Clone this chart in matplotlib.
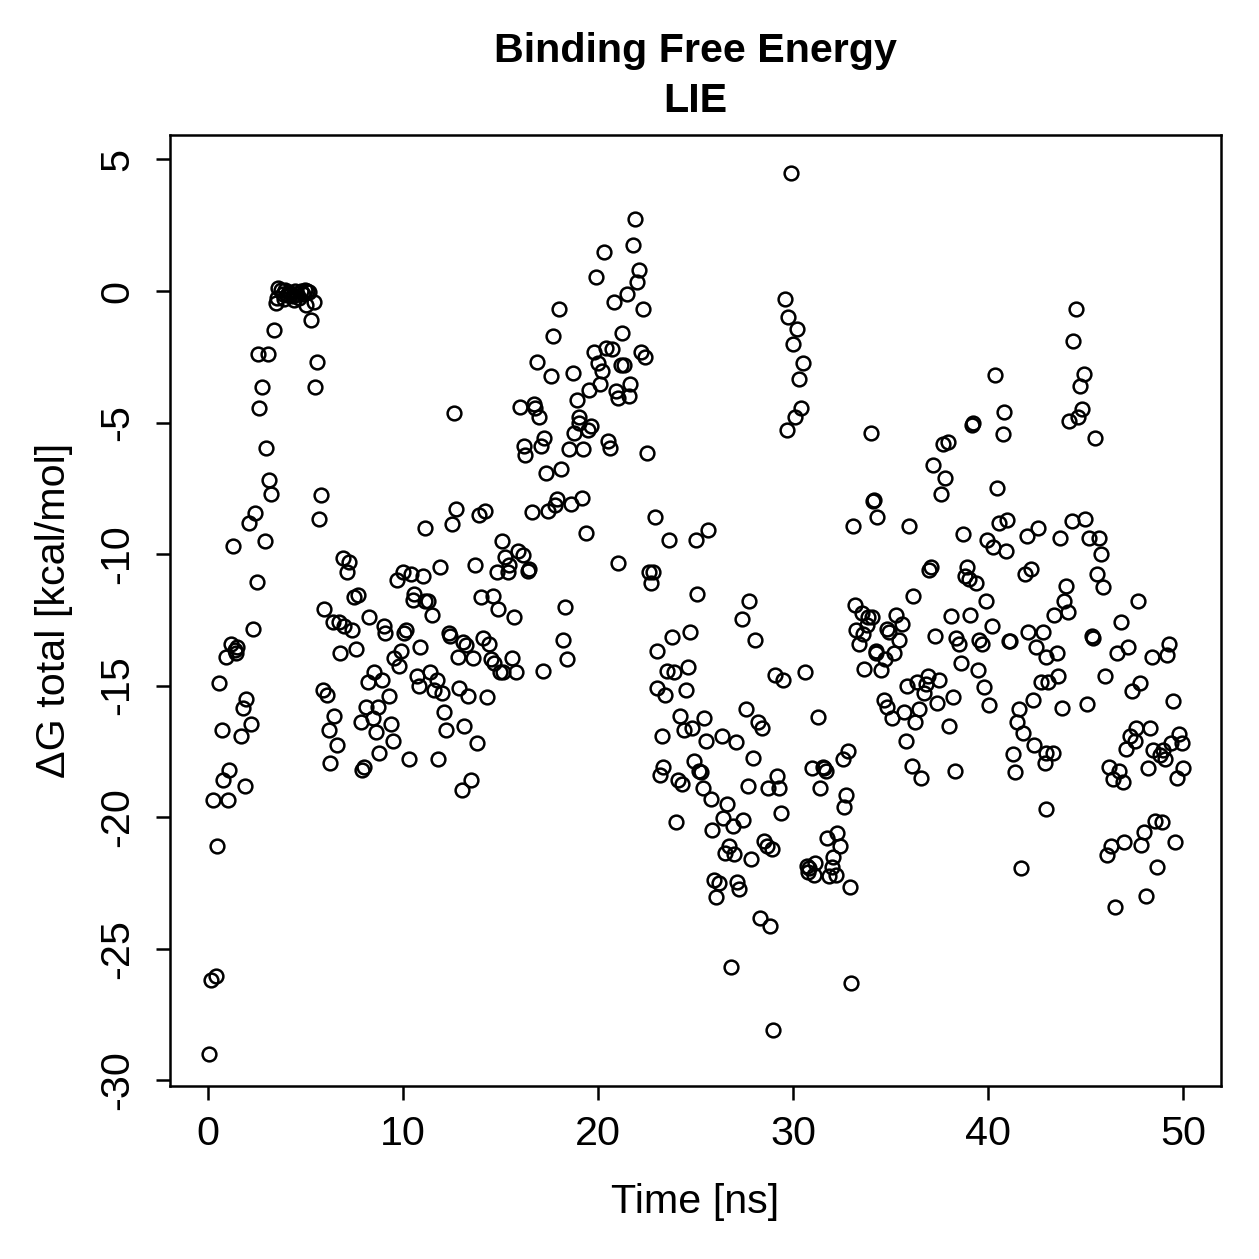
import matplotlib
matplotlib.use("Agg")
import matplotlib.pyplot as plt

plt.rcParams['font.family'] = ['Liberation Sans', 'DejaVu Sans']

# ---- data (time in ns, dG in kcal/mol) ----
time_a = [0.05, 0.15, 0.4, 0.25, 0.45, 0.55, 0.7, 0.75, 0.9, 1.0, 1.1, 1.2, 1.3, 1.4, 1.5, 1.45,
          1.7, 1.8, 1.9, 1.95, 2.1, 2.2, 2.3, 2.4, 2.5, 2.55, 2.6, 2.75, 2.9, 2.95, 3.1, 3.15, 3.25,
          3.4, 3.5, 3.55, 3.6, 3.75, 3.85, 3.95, 4.05, 4.15, 4.25, 4.35, 4.45, 4.55, 4.65, 4.75,
          4.85, 4.95, 5.1, 5.2, 3.9, 4.4, 5.0, 5.3, 5.45, 5.5, 5.6, 5.7, 5.8, 5.9, 6.1, 5.95]
dg_a = [-29.0, -26.2, -26.05, -19.35, -21.1, -14.9, -16.7, -18.6, -13.9, -19.35, -18.2, -13.4, -9.7,
        -13.65, -13.55, -13.75, -16.9, -15.85, -18.8, -15.5, -8.8, -16.45, -12.85, -8.45, -11.05, -2.4,
        -4.45, -3.65, -9.5, -5.95, -2.4, -7.2, -7.7, -1.5, -0.45, -0.25, 0.1, 0.05, -0.1, 0.05, -0.15,
        -0.05, -0.1, -0.2, 0.0, -0.1, -0.25, 0.0, -0.1, 0.05, 0.0, -0.05, -0.3, -0.35, -0.55, -1.1,
        -0.4, -3.65, -2.7, -8.65, -7.75, -15.15, -15.35, -12.1]

time_b = [6.4, 6.7, 6.95, 7.4, 6.75, 7.6, 6.45, 6.2, 6.6, 6.25, 6.9, 7.25, 7.15, 7.7, 7.5,
          8.1, 7.85, 8.0, 7.9, 8.2, 8.25,
          9.0, 9.1, 10.15, 10.05, 12.35, 12.4, 13.1, 13.25, 14.1, 14.4, 10.85, 9.9, 9.55, 9.8, 12.8,
          13.6, 14.5, 14.65, 15.6, 14.95, 15.15, 15.8, 8.5, 8.9, 10.7, 11.4, 11.75, 10.8, 11.6, 12.0,
          12.85, 13.35, 14.3, 9.3, 8.7, 8.45, 9.4, 12.1, 12.2, 13.15, 8.6, 9.5, 13.8, 8.75, 10.3, 11.8,
          13.5, 13.0,
          12.6, 16.0, 16.7, 16.75, 16.95, 16.2, 16.25, 17.1,
          12.7, 12.5, 13.9, 14.2, 16.6, 11.15, 15.1, 15.25, 15.9, 16.15, 15.45, 15.4, 16.4, 16.45,
          14.8, 13.7, 11.9, 9.7, 10.0, 10.4, 11.0, 10.55, 10.5, 11.15, 11.3, 14.0, 14.6, 14.85, 15.7,
          11.5]
dg_b = [-12.6, -12.6, -12.75, -12.9, -13.75, -13.6, -16.15, -16.7, -17.25, -17.95, -10.15, -10.3,
        -10.7, -11.55, -11.65,
        -15.8, -16.4, -18.1, -18.2, -14.85, -12.4,
        -12.75, -13.0, -12.9, -13.0, -13.0, -13.1, -13.35, -13.45, -13.2, -13.4, -13.55, -13.7, -13.95,
        -14.25, -13.9, -13.95, -14.0, -14.15, -13.95, -14.5, -14.5, -14.5, -14.5, -14.8, -14.65, -14.5,
        -14.8, -15.0, -15.15, -15.3, -15.1, -15.4, -15.45, -15.4, -15.8, -16.25, -16.45, -16.0, -16.7,
        -16.55, -16.75, -17.1, -17.2, -17.55, -17.8, -17.8, -18.6, -18.95,
        -4.65, -4.4, -4.3, -4.45, -4.8, -5.9, -6.25, -5.9,
        -8.3, -8.85, -8.5, -8.35, -8.4, -9.0, -9.5, -10.1, -9.9, -10.05, -10.4, -10.7, -10.65, -10.55,
        -10.7, -10.4, -10.5, -11.0, -10.7, -10.75, -10.85, -11.5, -11.75, -11.8, -11.8, -11.65, -11.6,
        -12.1, -12.4, -12.3]

time_c = [21.9, 21.8, 20.3, 19.9, 22.1, 22.0, 21.5, 20.8, 22.3, 18.0, 17.7, 21.25, 16.85, 17.6,
          18.7, 19.8, 20.4, 20.7, 20.0, 20.2, 20.1, 19.55, 21.2, 21.35, 22.2, 22.4, 20.9, 21.05, 21.65,
          21.6, 18.9, 19.0, 19.05, 19.65, 19.5, 18.75, 17.25, 18.5, 19.25, 20.5, 20.6, 22.5, 17.35,
          18.1, 17.45, 17.8, 17.9, 18.6, 19.2, 19.4, 22.9, 23.65, 25.0, 25.65, 21.0, 22.6, 22.8, 22.7,
          25.1, 18.3, 18.2, 18.4, 17.2]
dg_c = [2.75, 1.75, 1.5, 0.55, 0.8, 0.35, -0.1, -0.4, -0.7, -0.7, -1.7, -1.6, -2.7, -3.25, -3.1,
        -2.3, -2.15, -2.2, -2.75, -3.05, -3.55, -3.75, -2.8, -2.8, -2.3, -2.5, -3.8, -4.05, -3.55, -4.0,
        -4.15, -4.8, -5.0, -5.15, -5.3, -5.4, -5.6, -6.0, -6.0, -5.7, -5.95, -6.15, -6.9, -6.75, -8.35,
        -8.15, -7.9, -8.1, -7.85, -9.2, -8.6, -9.45, -9.45, -9.1, -10.35, -10.7, -10.7, -11.1, -11.5,
        -12.0, -13.25, -14.0, -14.45]

time_d = [24.7, 23.8, 23.0, 23.55, 23.9, 24.6, 23.05, 23.45, 24.5, 24.2, 25.45, 24.4, 24.8, 23.3,
          25.55, 24.9, 25.2, 25.3, 23.35, 23.2, 24.1, 24.3, 25.4, 25.8, 24.0, 25.85, 25.95,
          29.9, 29.6, 29.75, 30.2, 30.0, 30.5, 30.3, 30.4, 30.1, 29.7,
          34.0, 34.1, 34.15, 34.3, 33.1, 27.75, 27.4, 33.2, 33.55, 33.85, 28.05, 29.1, 29.5, 30.6,
          33.8, 33.25, 33.6, 33.4, 34.25, 33.65, 31.3, 27.6, 28.2, 28.4, 26.35, 27.1, 27.95, 32.8,
          32.55, 31.0, 31.55, 31.6, 31.7, 31.4, 32.7, 32.6, 27.7, 29.2, 28.7, 29.3, 26.6, 29.4, 26.4,
          26.9, 27.45, 31.75, 32.25, 32.4, 32.05, 32.0, 31.85, 32.2, 32.9, 26.7, 26.5, 27.0, 28.5,
          28.65, 28.9, 27.85, 30.7, 30.8, 31.15, 31.1, 30.75, 26.2, 27.15, 27.25, 26.05, 28.3, 28.8,
          26.8, 33.0, 29.0]
dg_d = [-12.95, -13.15, -13.7, -14.45, -14.5, -14.3, -15.1, -15.35, -15.15, -16.15, -16.25, -16.7,
        -16.6, -16.9, -17.1, -17.85, -18.25, -18.3, -18.1, -18.4, -18.6, -18.75, -18.9, -19.3, -20.2,
        -20.5, -22.4,
        4.5, -0.3, -1.0, -1.45, -2.0, -2.75, -3.35, -4.45, -4.8, -5.3,
        -5.4, -8.0, -7.95, -8.6, -8.95, -11.8, -12.45, -11.95, -12.25, -12.4, -13.25, -14.6, -14.8,
        -14.5, -12.7, -12.9, -13.05, -13.4, -13.75, -14.35, -16.2, -15.9, -16.4, -16.6, -16.9, -17.15,
        -17.75, -17.5, -17.8, -18.15, -18.1, -18.15, -18.25, -18.9, -19.15, -19.6, -18.8, -18.45,
        -18.9, -18.9, -19.5, -19.85, -20.05, -20.35, -20.1, -20.8, -20.6, -21.1, -21.5, -21.9, -22.25,
        -22.2, -22.65, -21.1, -21.35, -21.4, -20.9, -21.1, -21.2, -21.6, -21.85, -21.95, -21.75, -22.2,
        -22.1, -22.5, -22.45, -22.75, -23.05, -23.85, -24.15, -25.7, -26.3, -28.1]

time_e = [34.05, 34.8, 34.9, 35.45, 35.6, 35.3, 34.25, 35.2, 34.7, 34.5, 37.3, 38.1, 39.1, 39.9,
          40.2, 38.35, 38.5, 39.55, 39.7, 41.1, 41.15, 42.05, 42.8, 42.45, 43.0, 43.4, 38.6, 39.5,
          35.85, 36.35, 36.9, 36.8, 37.5, 36.7, 38.2, 39.8, 40.05, 34.65, 34.8, 35.1, 35.7, 36.45,
          37.4, 36.25, 38.0, 35.8, 36.1, 36.55, 38.3, 42.7, 43.1, 42.3, 41.6, 41.5, 41.8, 42.35, 41.3,
          42.9, 41.4, 42.95, 41.7,
          40.35, 40.8, 39.25, 39.2, 40.75, 37.95, 37.7, 37.2, 37.8, 37.6, 40.45, 35.95, 38.7, 39.95,
          40.25, 40.9, 40.55, 40.95, 42.0, 42.55, 37.0, 37.1, 38.9, 38.8, 39.05, 39.4, 41.9, 42.2,
          36.15]
dg_e = [-12.4, -12.85, -12.95, -13.25, -12.65, -12.3, -13.7, -13.75, -14.0, -14.4, -13.1, -12.35,
        -12.3, -11.8, -12.75, -13.2, -13.4, -13.25, -13.4, -13.3, -13.3, -12.95, -12.95, -13.55, -13.9,
        -12.3, -14.15, -14.4, -15.0, -14.85, -14.65, -14.95, -14.8, -15.3, -15.45, -15.05, -15.75,
        -15.55, -15.8, -16.25, -16.0, -15.9, -15.65, -16.4, -16.55, -17.1, -18.05, -18.5, -18.25,
        -14.85, -14.85, -15.55, -15.9, -16.4, -16.8, -17.25, -17.6, -17.95, -18.3, -19.7, -21.95,
        -3.2, -4.6, -5.0, -5.1, -5.45, -5.75, -5.8, -6.6, -7.1, -7.7, -7.5, -8.95, -9.25, -9.45,
        -9.75, -9.9, -8.8, -8.7, -9.3, -9.0, -10.6, -10.5, -10.5, -10.85, -10.95, -11.1, -10.75,
        -10.55, -11.6]

time_f = [44.5, 44.35, 44.9, 44.7, 44.8, 44.6, 44.15, 45.5, 44.3, 45.0, 43.7, 45.2, 45.7, 45.8,
          45.6, 45.9, 44.0, 43.9, 44.1, 47.7, 46.8, 45.35, 45.4, 43.55, 43.6, 43.8, 45.1, 46.0, 46.6,
          47.2, 48.4, 49.3, 49.2, 47.8, 47.4, 49.5, 42.95, 43.35, 47.6, 47.3, 47.55, 48.3, 47.1, 48.45,
          49.0, 48.8, 49.1, 49.4, 49.8, 49.95, 48.2, 50.0, 49.7, 46.2, 46.7, 46.4, 46.9, 48.55, 48.9,
          48.0, 46.95, 46.3, 47.85, 49.6, 46.1, 48.65, 48.1, 46.5]
dg_f = [-0.7, -1.9, -3.15, -3.6, -4.5, -4.8, -4.95, -5.6, -8.75, -8.65, -9.4, -9.4, -9.4, -10.0,
        -10.75, -11.25, -11.2, -11.8, -12.2, -11.8, -12.6, -13.1, -13.2, -13.75, -14.65, -15.85, -15.7,
        -14.65, -13.75, -13.55, -13.9, -13.4, -13.85, -14.9, -15.2, -15.6, -17.55, -17.55, -16.6,
        -16.9, -17.1, -16.6, -17.4, -17.45, -17.45, -17.65, -17.8, -17.2, -16.85, -17.2, -18.15,
        -18.15, -18.5, -18.1, -18.25, -18.55, -18.65, -20.15, -20.2, -20.55, -20.95, -21.1, -21.05,
        -20.95, -21.45, -21.9, -23.0, -23.4]

time_ns = time_a + time_b + time_c + time_d + time_e + time_f
dg_total = dg_a + dg_b + dg_c + dg_d + dg_e + dg_f

x_ticks = [0, 10, 20, 30, 40, 50]
y_ticks = [5, 0, -5, -10, -15, -20, -25, -30]

DPI = 180
fig = plt.figure(figsize=(1259 / DPI, 1259 / DPI), dpi=DPI)
ax = fig.add_axes([170 / 1259, 1 - 1086 / 1259, (1221 - 170) / 1259, (1086 - 135) / 1259])

ax.plot(time_ns, dg_total, linestyle='none', marker='o', markersize=5.5,
        markerfacecolor='none', markeredgecolor='black', markeredgewidth=1.0)

ax.set_xlim(-1.95, 51.95)
ax.set_ylim(-30.22, 5.93)
ax.set_xticks(x_ticks)
ax.set_xticklabels([str(v) for v in x_ticks])
ax.set_yticks(y_ticks)
ax.set_yticklabels([str(v) for v in y_ticks], rotation=90, va='center')

for s in ax.spines.values():
    s.set_linewidth(1.0)
ax.tick_params(axis='both', direction='out', length=5.6, width=1.0, labelsize=16.5, colors='black')
ax.tick_params(axis='x', pad=6)
ax.tick_params(axis='y', pad=8)

ax.set_xlabel('Time [ns]', fontsize=16.5, labelpad=12)
ax.set_ylabel('ΔG total [kcal/mol]', fontsize=16.5, labelpad=10)
ax.set_title('Binding Free Energy\nLIE', fontsize=16.5, fontweight='bold', pad=9, linespacing=1.42)

fig.savefig('out.png', dpi=DPI)
